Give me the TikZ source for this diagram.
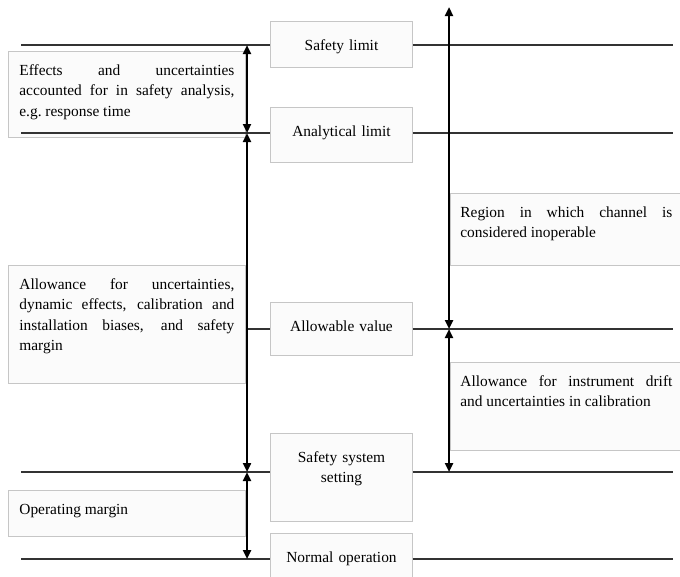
\documentclass[tikz,border=0pt]{standalone}
\usepackage{fontspec}
\setmainfont{Liberation Serif}
\usetikzlibrary{arrows.meta}

\begin{document}
\begin{tikzpicture}[x=1pt, y=-1pt,
    font=\fontsize{15.4}{20.5}\selectfont,
    lvlbox/.style={rectangle, draw=gray!45, fill=gray!3, line width=0.8pt, anchor=north,
                   minimum width=142pt, text width=130pt, align=center,
                   inner xsep=6pt, inner ysep=0pt, text height=29pt},
    note/.style={rectangle, draw=gray!45, fill=gray!3, line width=0.8pt, anchor=north west,
                 align=justify, inner xsep=11pt, inner ysep=0pt, text height=24pt,
                 execute at begin node={\hyphenpenalty=10000\hbadness=10000}},
    hline/.style={draw=black!80, line width=1.2pt},
    dim/.style={{Triangle[length=9pt,width=8pt]}-{Triangle[length=9pt,width=8pt]}, line width=2.4pt}
]
    \useasboundingbox (0,0) rectangle (680,576);
    \clip (0,0) rectangle (680,576);

    % explanation boxes
    \node[note, text width=215pt, text depth=62pt] (effects) at (8,51)
        {Effects and uncertainties\linebreak accounted for in safety analysis,\linebreak e.g.~response time};
    \node[note, text width=215pt, text depth=94pt] (allow) at (8,265)
        {Allowance for uncertainties,\linebreak dynamic effects, calibration and\linebreak installation biases, and safety\linebreak margin};
    \node[note, text width=215pt, text depth=22pt] (opmargin) at (8,490)
        {Operating margin};
    \node[note, inner xsep=10pt, text width=212pt, text depth=48pt] (region) at (450,193)
        {Region in which channel is\linebreak considered inoperable};
    \node[note, inner xsep=10pt, text width=212pt, text depth=64pt] (drift) at (450,362)
        {Allowance for instrument drift\linebreak and uncertainties in calibration};

    % level boxes
    \node[lvlbox, text depth=17pt] (safety)    at (341.5,21)  {Safety limit};
    \node[lvlbox, text depth=26pt] (analytic)  at (341.5,107) {Analytical limit};
    \node[lvlbox, text depth=24pt] (allowable) at (341.5,302) {Allowable value};
    \node[lvlbox, text depth=59pt] (setting)   at (341.5,433) {Safety system\\setting};
    \node[lvlbox, text depth=20pt] (normal)    at (341.5,533) {Normal operation};

    % levels
    \coordinate (lvlA) at (21,45);
    \coordinate (lvlB) at (21,133);
    \coordinate (lvlC) at (247,329);
    \coordinate (lvlD) at (21,472);
    \coordinate (lvlE) at (21,559);
    \coordinate (endR) at (673,0);
    \coordinate (arrL) at (247,0);
    \coordinate (arrR) at (449,0);
    \coordinate (top)  at (449,7);

    \draw[hline] (lvlA) -- (lvlA -| safety.west);
    \draw[hline] (lvlA -| safety.east) -- (lvlA -| endR);
    \draw[hline] (lvlB) -- (lvlB -| analytic.west);
    \draw[hline] (lvlB -| analytic.east) -- (lvlB -| endR);
    \draw[hline] (lvlC) -- (lvlC -| allowable.west);
    \draw[hline] (lvlC -| allowable.east) -- (lvlC -| endR);
    \draw[hline] (lvlD) -- (lvlD -| setting.west);
    \draw[hline] (lvlD -| setting.east) -- (lvlD -| endR);
    \draw[hline] (lvlE) -- (lvlE -| normal.west);
    \draw[hline] (lvlE -| normal.east) -- (lvlE -| endR);

    % margins
    \draw[dim] (lvlA -| arrL) -- (lvlB -| arrL);
    \draw[dim] (lvlB -| arrL) -- (lvlD -| arrL);
    \draw[dim] (lvlD -| arrL) -- (lvlE -| arrL);
    \draw[dim] (top) -- (lvlC -| arrR);
    \draw[dim] (lvlC -| arrR) -- (lvlD -| arrR);
\end{tikzpicture}
\end{document}
